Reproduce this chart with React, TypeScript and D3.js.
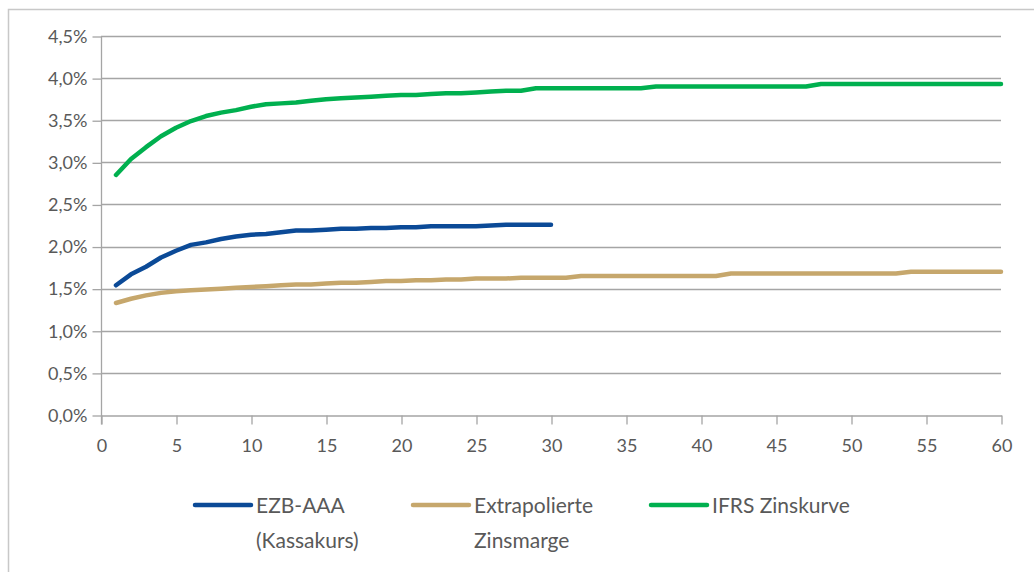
import React, { useEffect, useRef } from 'react';
import * as d3 from 'd3';

// Laufzeit in Jahren
const years = d3.range(1, 61);
const yTicks = [0, 0.5, 1, 1.5, 2, 2.5, 3, 3.5, 4, 4.5];
const xTicks = [0, 5, 10, 15, 20, 25, 30, 35, 40, 45, 50, 55, 60];

// EZB-AAA (Kassakurs), Jahre 1..30
const ezb = [
  1.54, 1.67, 1.76, 1.87, 1.95, 2.02, 2.05, 2.09, 2.12, 2.14,
  2.15, 2.17, 2.19, 2.19, 2.2, 2.21, 2.21, 2.22, 2.22, 2.23,
  2.23, 2.24, 2.24, 2.24, 2.24, 2.25, 2.26, 2.26, 2.26, 2.26,
];
// Extrapolierte Zinsmarge, Jahre 1..60
const marge = [
  1.33, 1.38, 1.42, 1.45, 1.47, 1.48, 1.49, 1.5, 1.51, 1.52,
  1.53, 1.54, 1.55, 1.55, 1.56, 1.57, 1.57, 1.58, 1.59, 1.59,
  1.6, 1.6, 1.61, 1.61, 1.62, 1.62, 1.62, 1.63, 1.63, 1.63,
  1.63, 1.65, 1.65, 1.65, 1.65, 1.65, 1.65, 1.65, 1.65, 1.65,
  1.65, 1.68, 1.68, 1.68, 1.68, 1.68, 1.68, 1.68, 1.68, 1.68,
  1.68, 1.68, 1.68, 1.7, 1.7, 1.7, 1.7, 1.7, 1.7, 1.7,
];
// IFRS Zinskurve, Jahre 1..60
const ifrs = [
  2.85, 3.04, 3.18, 3.31, 3.41, 3.49, 3.55, 3.59, 3.62, 3.66,
  3.69, 3.7, 3.71, 3.73, 3.75, 3.76, 3.77, 3.78, 3.79, 3.8,
  3.8, 3.81, 3.82, 3.82, 3.83, 3.84, 3.85, 3.85, 3.88, 3.88,
  3.88, 3.88, 3.88, 3.88, 3.88, 3.88, 3.9, 3.9, 3.9, 3.9,
  3.9, 3.9, 3.9, 3.9, 3.9, 3.9, 3.9, 3.93, 3.93, 3.93,
  3.93, 3.93, 3.93, 3.93, 3.93, 3.93, 3.93, 3.93, 3.93, 3.93,
];

const seriesNames = [['EZB-AAA', '(Kassakurs)'], ['Extrapolierte', 'Zinsmarge'], ['IFRS Zinskurve']];
const seriesValues = [ezb, marge, ifrs];
const seriesColors = ['#0b4a97', '#c6a76c', '#00b04f'];

const W = 1034;
const H = 572;
const FONT = 'Lato, "Open Sans", sans-serif';
const TEXT = '#595959';
const GRID = '#a5a5a5';

export default function App() {
  const ref = useRef<SVGSVGElement>(null);

  useEffect(() => {
    const { current: node } = ref;
    if (!node) {
      return;
    }
    const svg = d3.select(node);
    svg.selectAll('*').remove();

    const x = d3.scaleLinear().domain([0, 60]).range([101, 1001]);
    const y = d3.scaleLinear().domain([0, 4.5]).range([415, 36]);

    // Rahmen
    svg.append('rect').attr('width', W).attr('height', H).attr('fill', '#fff');
    svg
      .append('path')
      .attr('d', `M8.5,${H}V9.5H${W}`)
      .attr('fill', 'none')
      .attr('stroke', '#c8c8c8')
      .attr('stroke-width', 1.5);

    // Gitternetz
    svg
      .append('g')
      .selectAll('line')
      .data(yTicks.filter((t) => t > 0))
      .join('line')
      .attr('x1', x(0))
      .attr('x2', x(60))
      .attr('y1', (d) => Math.round(y(d)) + 0.5)
      .attr('y2', (d) => Math.round(y(d)) + 0.5)
      .attr('stroke', GRID)
      .attr('stroke-width', 1.3);

    const fmt = (d: number) => d.toFixed(1).replace('.', ',') + '%';

    // y-Achse
    const yAxis = svg
      .append('g')
      .attr('transform', `translate(${Math.round(x(0)) + 0.5},0.5)`)
      .call(
        d3
          .axisLeft(y)
          .tickValues(yTicks)
          .tickSize(9)
          .tickPadding(5)
          .tickFormat((d) => fmt(d as number))
      );
    yAxis.select('.domain').attr('d', `M0,${y(4.5)}V${y(0) + 9}`);

    // x-Achse
    svg
      .append('g')
      .attr('transform', `translate(0.5,${Math.round(y(0)) + 0.5})`)
      .call(d3.axisBottom(x).tickValues(xTicks).tickSize(9).tickPadding(15).tickSizeOuter(0));

    svg
      .selectAll('.domain, .tick line')
      .attr('stroke', GRID)
      .attr('stroke-width', 1.3);
    svg
      .selectAll('.tick text')
      .attr('font-family', FONT)
      .attr('font-size', 18)
      .attr('fill', TEXT);

    // Kurven
    seriesValues.forEach((vals, i) => {
      const line = d3
        .line<number>()
        .x((_, j) => x(years[j]))
        .y((d) => y(d));
      svg
        .append('path')
        .datum(vals)
        .attr('d', line)
        .attr('fill', 'none')
        .attr('stroke', seriesColors[i])
        .attr('stroke-width', 4.5)
        .attr('stroke-linecap', 'round')
        .attr('stroke-linejoin', 'round');
    });

    // Legende
    const legendX = [195, 413, 651];
    const legend = svg
      .append('g')
      .selectAll('g')
      .data(seriesNames)
      .join('g')
      .attr('transform', (_, i) => `translate(${legendX[i]},505)`);
    legend
      .append('line')
      .attr('x1', 0)
      .attr('x2', 56)
      .attr('stroke', (_, i) => seriesColors[i])
      .attr('stroke-width', 4.5)
      .attr('stroke-linecap', 'round');
    legend
      .append('text')
      .attr('x', 61)
      .attr('font-family', FONT)
      .attr('font-size', 21)
      .attr('fill', TEXT)
      .selectAll('tspan')
      .data((d) => d)
      .join('tspan')
      .attr('x', 61)
      .attr('y', (_, j) => 8 + j * 35)
      .text((d) => d);
  }, []);

  return (
    <svg
      ref={ref}
      width={W}
      height={H}
      style={{ position: 'absolute', left: 0, top: 0 }}
    />
  );
}
